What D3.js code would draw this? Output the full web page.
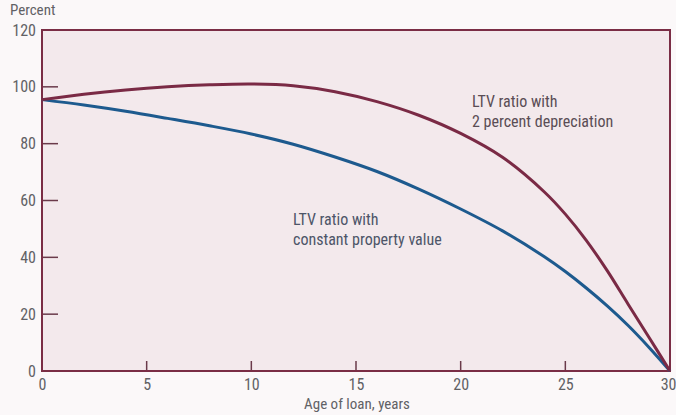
<!DOCTYPE html>
<html><head><meta charset="utf-8">
<script src="https://cdn.jsdelivr.net/npm/d3@7"></script>
<style>
html,body{margin:0;padding:0;background:#fbf8f9;}
svg{display:block;}
text{font-family:"Liberation Sans Narrow","Arial Narrow","Roboto Condensed",Roboto,"Liberation Sans",sans-serif;}
</style></head>
<body>
<svg id="chart" width="676" height="415"></svg>
<script>
// Data
const ages = [0, 2, 4, 6, 8, 10, 12, 14, 16, 18, 20, 22, 24, 25, 26, 27, 28, 29, 30];
const ltvConstant = [95.5, 93.6, 91.4, 88.9, 86.3, 83.4, 79.8, 75.3, 70.2, 64.0, 57.0, 49.3, 40.2, 35.0, 29.2, 22.9, 16.0, 8.3, 0];
const ltvDepreciation = [95.5, 97.4, 98.9, 100.0, 100.7, 101.0, 100.4, 98.3, 94.8, 90.0, 83.6, 75.2, 63.0, 55.2, 46.0, 35.3, 23.5, 11.8, 0];
const xTicks = [0, 5, 10, 15, 20, 25, 30];
const yTicks = [0, 20, 40, 60, 80, 100, 120];
const labels = {
  yTitle: "Percent",
  xTitle: "Age of loan, years",
  dep: ["LTV ratio with", "2 percent depreciation"],
  con: ["LTV ratio with", "constant property value"]
};

const svg = d3.select("#chart");
const m = {left: 42, top: 30, right: 670, bottom: 371};
const x = d3.scaleLinear().domain([0, 30]).range([m.left, m.right]);
const y = d3.scaleLinear().domain([0, 120]).range([m.bottom, m.top]);

const frameColor = "#7a2d45";
const textColor = "#616165";

// plot background
svg.append("rect").attr("x", m.left).attr("y", m.top)
  .attr("width", m.right - m.left).attr("height", m.bottom - m.top)
  .attr("fill", "#f3e9ec");

// y tick labels
const yAxis = d3.axisLeft(y).tickValues(yTicks).tickSize(0).tickPadding(6);
const gy = svg.append("g").attr("transform", `translate(${m.left},0)`).call(yAxis);
gy.select(".domain").remove();
gy.selectAll("text").attr("font-size", 16).attr("fill", textColor)
  .attr("font-family", null);
// y ticks (inside)
svg.append("g").selectAll("line").data(yTicks.filter(d => d > 0 && d < 120)).join("line")
  .attr("x1", m.left).attr("x2", m.left + 16)
  .attr("y1", d => y(d)).attr("y2", d => y(d))
  .attr("stroke", "#6a3a4a").attr("stroke-width", 1.5);

// x tick labels
const xAxis = d3.axisBottom(x).tickValues(xTicks).tickSize(0).tickPadding(8);
const gx = svg.append("g").attr("transform", `translate(0,${m.bottom})`).call(xAxis);
gx.select(".domain").remove();
gx.selectAll("text").attr("font-size", 16).attr("fill", textColor)
  .attr("font-family", null)
  .filter(d => d === 30).attr("text-anchor", "end").attr("dx", 6);
// x ticks (inside, upward)
svg.append("g").selectAll("line").data(xTicks.filter(d => d > 0 && d < 30)).join("line")
  .attr("x1", d => x(d)).attr("x2", d => x(d))
  .attr("y1", m.bottom).attr("y2", m.bottom - 10)
  .attr("stroke", "#6a3a4a").attr("stroke-width", 1.5);

// frame
svg.append("rect").attr("x", m.left).attr("y", m.top)
  .attr("width", m.right - m.left).attr("height", m.bottom - m.top)
  .attr("fill", "none").attr("stroke", frameColor).attr("stroke-width", 2);

// lines
const line = d3.line().x(d => x(d[0])).y(d => y(d[1])).curve(d3.curveCatmullRom.alpha(0.5));
svg.append("path").datum(ages.map((a, i) => [a, ltvConstant[i]]))
  .attr("d", line).attr("fill", "none").attr("stroke", "#1d5a8e").attr("stroke-width", 3);
svg.append("path").datum(ages.map((a, i) => [a, ltvDepreciation[i]]))
  .attr("d", line).attr("fill", "none").attr("stroke", "#7a2a45").attr("stroke-width", 3);

// titles
svg.append("text").attr("x", 10).attr("y", 15).attr("font-size", 15)
  .attr("fill", textColor).text(labels.yTitle);
svg.append("text").attr("x", 357).attr("y", 409).attr("text-anchor", "middle")
  .attr("font-size", 15).attr("fill", textColor).text(labels.xTitle);

// annotations
svg.append("text").attr("x", 472).attr("y", 107).attr("font-size", 16).attr("fill", "#5a4d55")
  .selectAll("tspan").data(labels.dep).join("tspan")
  .attr("x", 472).attr("dy", (d, i) => i ? 20 : 0).text(d => d);
svg.append("text").attr("x", 293).attr("y", 225).attr("font-size", 16).attr("fill", "#4d5568")
  .selectAll("tspan").data(labels.con).join("tspan")
  .attr("x", 293).attr("dy", (d, i) => i ? 20 : 0).text(d => d);
</script>
</body></html>
